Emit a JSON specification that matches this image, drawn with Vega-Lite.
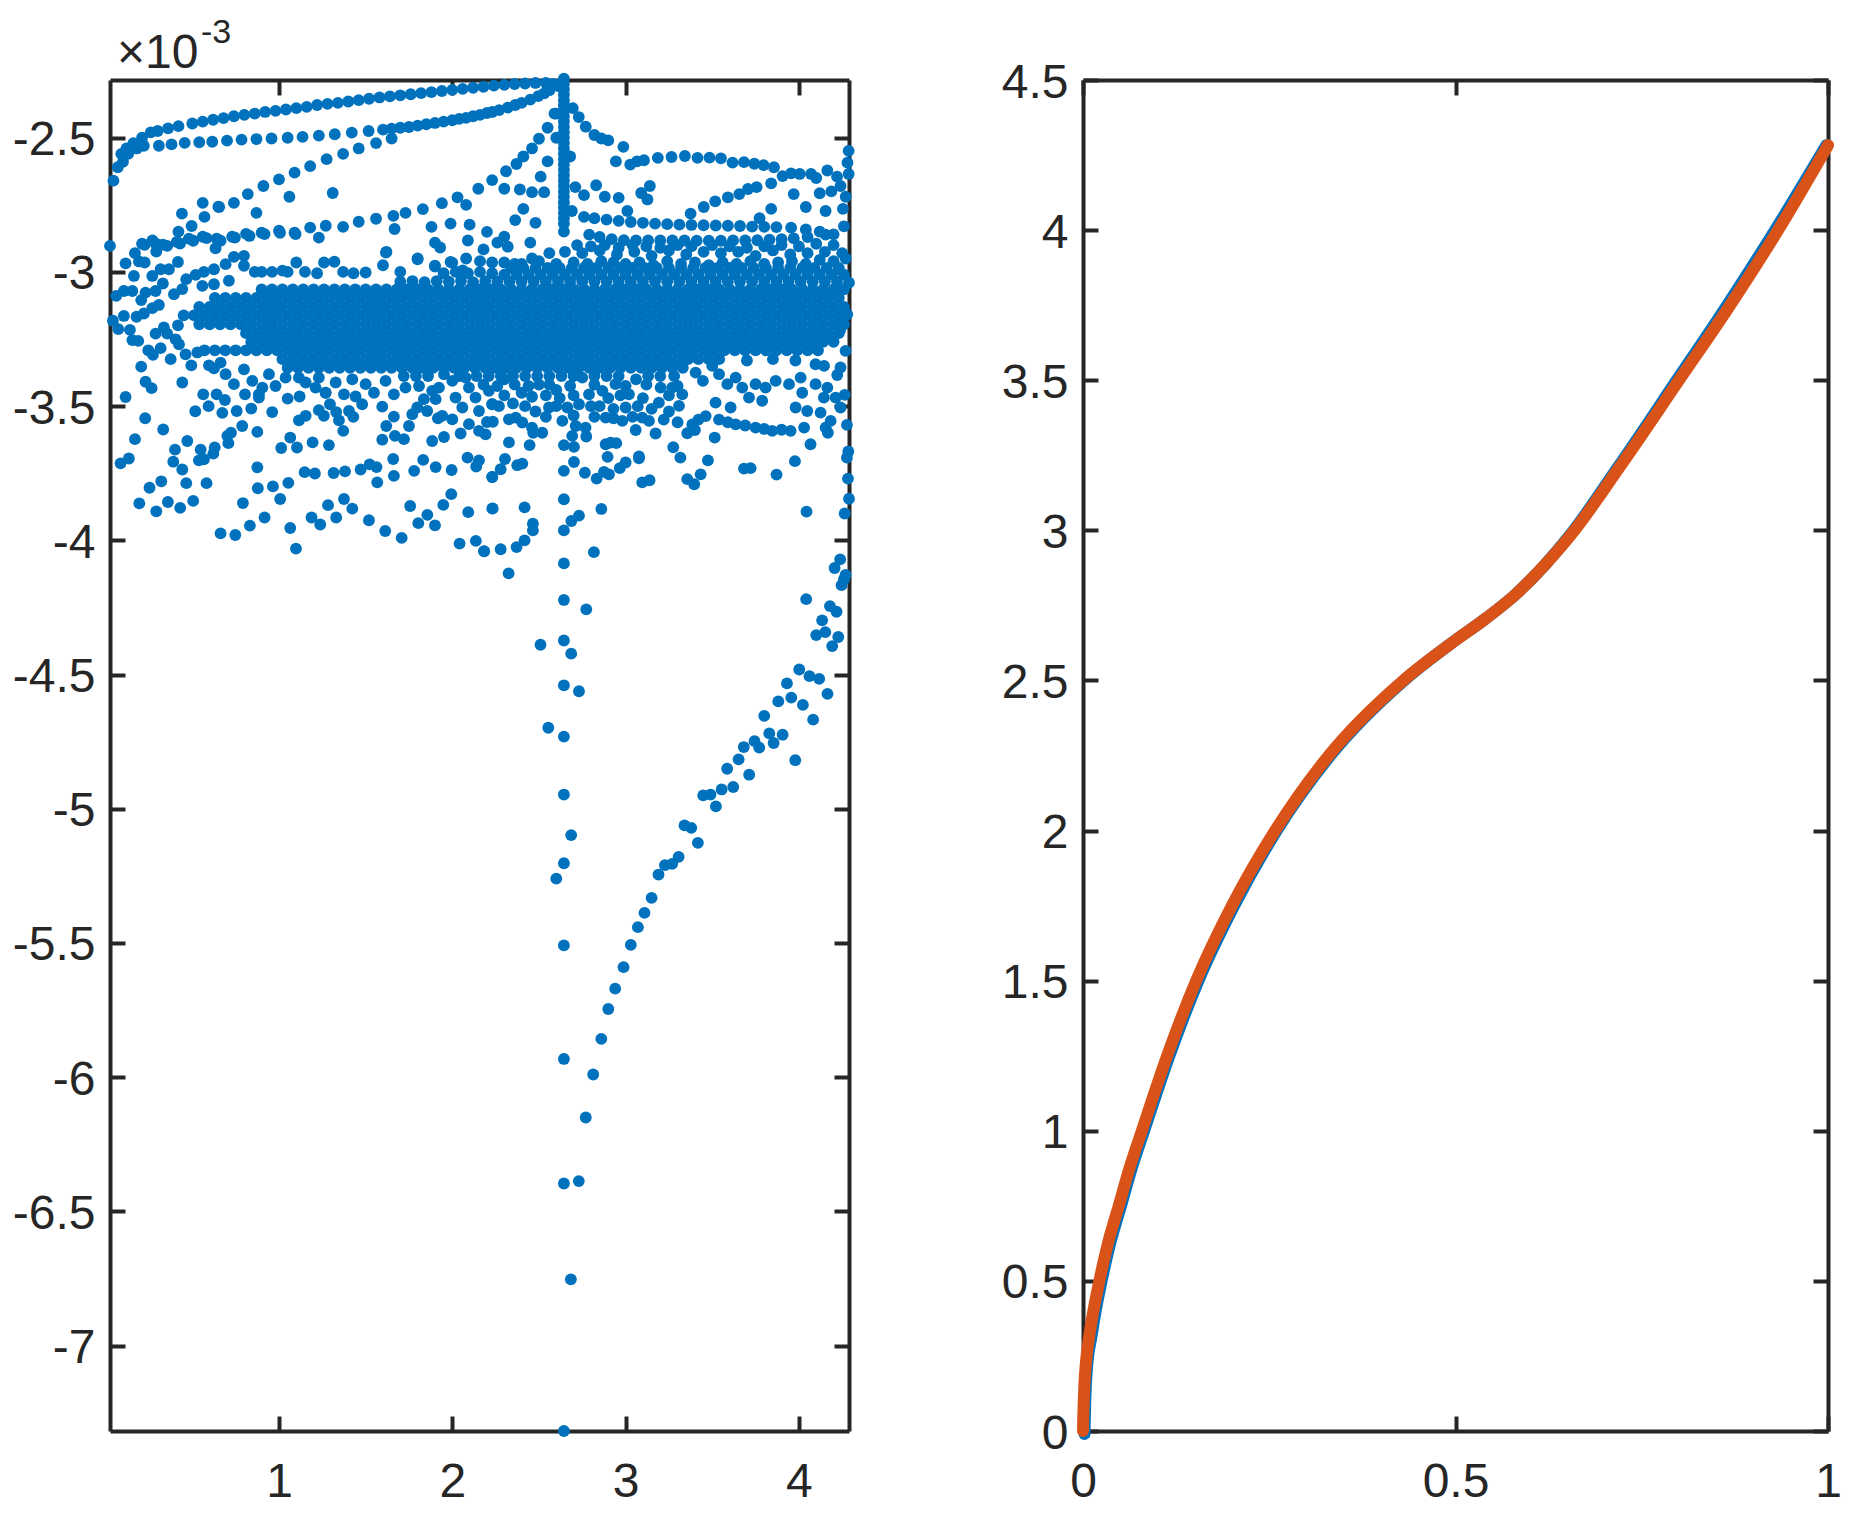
{"$schema":"https://vega.github.io/schema/vega-lite/v6.json","background":"white","padding":{"left":12,"top":15,"right":0,"bottom":0},"spacing":146,"config":{"view":{"stroke":null},"axis":{"grid":false,"title":null,"domainColor":"#262626","domainWidth":4,"tickColor":"#262626","tickWidth":4,"tickSize":-15,"labelColor":"#262626","labelFont":"Liberation Sans","labelFontSize":48,"labelOverlap":false,"labelBound":false,"labelFlush":false,"labelExpr":"''+datum.value","labelPadding":30}},"datasets":{"scatter":[
{"x":0.045,"y":-2.66},{"x":0.07,"y":-2.61},{"x":0.09,"y":-2.56},{"x":0.12,"y":-2.54},{"x":0.16,"y":-2.52},{"x":0.21,"y":-2.5},{"x":0.26,"y":-2.48},{"x":0.3,"y":-2.475},{"x":0.36,"y":-2.465},{"x":0.42,"y":-2.457},{"x":0.5,"y":-2.447},{"x":0.56,"y":-2.44},{"x":0.62,"y":-2.433},{"x":0.68,"y":-2.427},{"x":0.74,"y":-2.42},{"x":0.8,"y":-2.415},{"x":0.86,"y":-2.41},{"x":0.92,"y":-2.404},{"x":0.98,"y":-2.4},{"x":1.04,"y":-2.395},{"x":1.1,"y":-2.39},{"x":1.16,"y":-2.385},{"x":1.22,"y":-2.378},{"x":1.28,"y":-2.374},{"x":1.34,"y":-2.37},{"x":1.4,"y":-2.365},{"x":1.46,"y":-2.36},{"x":1.52,"y":-2.355},{"x":1.58,"y":-2.35},{"x":1.64,"y":-2.346},{"x":1.7,"y":-2.342},{"x":1.76,"y":-2.338},{"x":1.82,"y":-2.334},{"x":1.88,"y":-2.33},{"x":1.94,"y":-2.326},{"x":2.0,"y":-2.322},{"x":2.06,"y":-2.318},{"x":2.12,"y":-2.314},{"x":2.18,"y":-2.31},{"x":2.24,"y":-2.306},{"x":2.3,"y":-2.303},{"x":2.36,"y":-2.3},{"x":2.42,"y":-2.298},{"x":2.48,"y":-2.296},{"x":2.54,"y":-2.296},{"x":2.58,"y":-2.3},{"x":2.62,"y":-2.3},
{"x":0.1,"y":-2.59},{"x":0.13,"y":-2.56},{"x":0.18,"y":-2.54},{"x":0.22,"y":-2.53},{"x":0.307,"y":-2.53},{"x":0.38,"y":-2.525},{"x":0.456,"y":-2.519},{"x":0.54,"y":-2.517},{"x":0.615,"y":-2.515},{"x":0.7,"y":-2.511},{"x":0.784,"y":-2.507},{"x":0.87,"y":-2.505},{"x":0.957,"y":-2.503},{"x":1.05,"y":-2.5},{"x":1.136,"y":-2.497},{"x":1.23,"y":-2.492},{"x":1.322,"y":-2.487},{"x":1.42,"y":-2.481},{"x":1.517,"y":-2.475},{"x":1.6,"y":-2.47},{"x":1.65,"y":-2.466},{"x":1.7,"y":-2.463},{"x":1.75,"y":-2.46},{"x":1.8,"y":-2.455},{"x":1.85,"y":-2.45},{"x":1.9,"y":-2.445},{"x":1.95,"y":-2.44},{"x":2.0,"y":-2.435},{"x":2.04,"y":-2.43},{"x":2.08,"y":-2.426},{"x":2.12,"y":-2.42},{"x":2.16,"y":-2.415},{"x":2.2,"y":-2.408},{"x":2.23,"y":-2.404},{"x":2.27,"y":-2.397},{"x":2.32,"y":-2.388},{"x":2.363,"y":-2.378},{"x":2.4,"y":-2.37},{"x":2.45,"y":-2.358},{"x":2.496,"y":-2.345},{"x":2.53,"y":-2.335},{"x":2.56,"y":-2.323},{"x":2.61,"y":-2.308},
{"x":0.56,"y":-2.743},{"x":0.65,"y":-2.757},{"x":0.74,"y":-2.743},{"x":0.82,"y":-2.71},{"x":0.91,"y":-2.68},{"x":1.0,"y":-2.655},{"x":1.09,"y":-2.63},{"x":1.18,"y":-2.606},{"x":1.275,"y":-2.58},{"x":1.37,"y":-2.56},{"x":1.46,"y":-2.54},{"x":1.56,"y":-2.52},{"x":1.65,"y":-2.503},
{"x":0.21,"y":-2.895},{"x":0.27,"y":-2.883},{"x":0.33,"y":-2.898},{"x":0.41,"y":-2.888},{"x":0.48,"y":-2.876},{"x":0.56,"y":-2.869},{"x":0.64,"y":-2.876},{"x":0.73,"y":-2.869},{"x":0.81,"y":-2.858},{"x":0.9,"y":-2.854},{"x":1.0,"y":-2.846},{"x":1.09,"y":-2.854},{"x":1.18,"y":-2.835},{"x":1.27,"y":-2.828},{"x":1.37,"y":-2.832},{"x":1.46,"y":-2.813},{"x":1.56,"y":-2.802},{"x":1.66,"y":-2.791},{"x":1.73,"y":-2.78},{"x":1.83,"y":-2.766},{"x":1.94,"y":-2.744},{"x":2.03,"y":-2.722},{"x":2.08,"y":-2.75},{"x":2.15,"y":-2.69},{"x":2.23,"y":-2.658},{"x":2.3,"y":-2.69},{"x":2.39,"y":-2.693},{"x":2.46,"y":-2.703},{"x":2.51,"y":-2.645},{"x":2.53,"y":-2.703},{"x":2.31,"y":-2.625},{"x":2.37,"y":-2.598},{"x":2.41,"y":-2.57},{"x":2.46,"y":-2.54},{"x":2.5,"y":-2.504},{"x":2.55,"y":-2.463},{"x":2.6,"y":-2.41},
{"x":2.644,"y":-2.28},{"x":2.644,"y":-2.3},{"x":2.644,"y":-2.32},{"x":2.644,"y":-2.34},{"x":2.644,"y":-2.36},{"x":2.644,"y":-2.38},{"x":2.644,"y":-2.4},{"x":2.644,"y":-2.42},{"x":2.644,"y":-2.44},{"x":2.644,"y":-2.46},{"x":2.644,"y":-2.48},{"x":2.644,"y":-2.5},{"x":2.644,"y":-2.52},{"x":2.644,"y":-2.54},{"x":2.644,"y":-2.56},{"x":2.644,"y":-2.58},{"x":2.644,"y":-2.6},{"x":2.644,"y":-2.62},{"x":2.644,"y":-2.64},{"x":2.644,"y":-2.66},{"x":2.644,"y":-2.68},{"x":2.644,"y":-2.7},{"x":2.644,"y":-2.72},{"x":2.644,"y":-2.74},{"x":2.644,"y":-2.76},{"x":2.644,"y":-2.78},{"x":2.644,"y":-2.8},{"x":2.644,"y":-2.82},{"x":2.644,"y":-2.85},
{"x":2.695,"y":-2.39},{"x":2.73,"y":-2.423},{"x":2.77,"y":-2.459},{"x":2.82,"y":-2.49},{"x":2.86,"y":-2.503},{"x":2.9,"y":-2.51},{"x":2.987,"y":-2.534},{"x":2.944,"y":-2.588},{"x":3.027,"y":-2.6},{"x":3.066,"y":-2.588},{"x":3.106,"y":-2.584},{"x":3.186,"y":-2.575},{"x":3.265,"y":-2.572},{"x":3.342,"y":-2.568},{"x":3.415,"y":-2.575},{"x":3.484,"y":-2.574},{"x":3.55,"y":-2.577},{"x":3.617,"y":-2.593},{"x":3.683,"y":-2.591},{"x":3.743,"y":-2.597},{"x":3.796,"y":-2.602},{"x":3.856,"y":-2.61},
{"x":4.287,"y":-2.549},{"x":4.28,"y":-2.593},{"x":4.287,"y":-2.635},{"x":4.164,"y":-2.622},{"x":4.07,"y":-2.635},{"x":4.005,"y":-2.635},{"x":3.955,"y":-2.633},{"x":3.906,"y":-2.643},{"x":3.84,"y":-2.67},{"x":3.756,"y":-2.684},{"x":3.706,"y":-2.691},{"x":3.656,"y":-2.71},{"x":3.59,"y":-2.722},{"x":3.517,"y":-2.737},{"x":3.451,"y":-2.758},{"x":3.375,"y":-2.783},{"x":3.97,"y":-2.71},{"x":4.12,"y":-2.707},{"x":4.187,"y":-2.7},{"x":4.27,"y":-2.72},{"x":4.04,"y":-2.758},{"x":4.154,"y":-2.773},{"x":4.254,"y":-2.765},{"x":3.84,"y":-2.765},{"x":3.773,"y":-2.8},{"x":4.1,"y":-2.65},{"x":4.22,"y":-2.645},{"x":4.24,"y":-2.68},
{"x":2.69,"y":-2.773},{"x":2.76,"y":-2.795},{"x":2.82,"y":-2.8},{"x":2.89,"y":-2.805},{"x":2.96,"y":-2.81},{"x":3.03,"y":-2.814},{"x":3.1,"y":-2.817},{"x":3.17,"y":-2.82},{"x":3.24,"y":-2.822},{"x":3.31,"y":-2.824},{"x":3.38,"y":-2.825},{"x":3.45,"y":-2.826},{"x":3.52,"y":-2.827},{"x":3.59,"y":-2.828},{"x":3.66,"y":-2.829},{"x":3.73,"y":-2.831},{"x":3.8,"y":-2.832},{"x":3.87,"y":-2.833},{"x":3.955,"y":-2.835},{"x":4.04,"y":-2.842},{"x":4.12,"y":-2.85},{"x":4.2,"y":-2.86},{"x":4.26,"y":-2.83},
{"x":2.79,"y":-2.861},{"x":2.85,"y":-2.87},{"x":2.92,"y":-2.878},{"x":2.99,"y":-2.882},{"x":3.06,"y":-2.883},{"x":3.13,"y":-2.883},{"x":3.2,"y":-2.883},{"x":3.27,"y":-2.883},{"x":3.34,"y":-2.883},{"x":3.41,"y":-2.884},{"x":3.48,"y":-2.884},{"x":3.55,"y":-2.884},{"x":3.62,"y":-2.883},{"x":3.69,"y":-2.883},{"x":3.76,"y":-2.882},{"x":3.83,"y":-2.88},{"x":3.9,"y":-2.878},{"x":3.97,"y":-2.875},{"x":4.05,"y":-2.87},{"x":4.154,"y":-2.861},
{"x":1.06,"y":-2.72},{"x":1.31,"y":-2.706},{"x":0.87,"y":-2.78},{"x":0.44,"y":-2.783},{"x":0.57,"y":-2.795},{"x":0.496,"y":-2.829},{"x":0.42,"y":-2.85},{"x":0.655,"y":-2.758},{"x":1.667,"y":-2.84},{"x":1.88,"y":-2.832},{"x":1.99,"y":-2.82},{"x":2.1,"y":-2.824},{"x":2.2,"y":-2.851},{"x":2.3,"y":-2.869},{"x":2.26,"y":-2.891},{"x":1.9,"y":-2.891},{"x":1.93,"y":-2.909},{"x":2.09,"y":-2.883},{"x":2.18,"y":-2.916},{"x":2.32,"y":-2.906},{"x":2.45,"y":-2.891},{"x":2.363,"y":-2.807},{"x":2.41,"y":-2.765},{"x":2.48,"y":-2.817},{"x":2.55,"y":-2.588},{"x":2.6,"y":-2.5},{"x":2.68,"y":-2.57},{"x":2.59,"y":-2.41},{"x":2.71,"y":-2.684},{"x":2.83,"y":-2.677},{"x":2.88,"y":-2.72},{"x":2.96,"y":-2.724},{"x":3.09,"y":-2.706},{"x":3.14,"y":-2.68},{"x":3.126,"y":-2.73},{"x":2.76,"y":-2.714},{"x":3.01,"y":-2.773},{"x":1.617,"y":-2.928},{"x":1.8,"y":-2.95},{"x":1.9,"y":-2.98},{"x":2.0,"y":-2.966},{"x":2.08,"y":-2.95},{"x":2.16,"y":-2.96},{"x":2.23,"y":-2.965},{"x":2.36,"y":-2.97},{"x":2.46,"y":-2.95},{"x":2.56,"y":-2.93},
{"x":0.025,"y":-2.903},{"x":0.225,"y":-2.899},{"x":0.288,"y":-2.894},{"x":0.292,"y":-2.924},{"x":0.355,"y":-2.903},{"x":0.429,"y":-2.894},{"x":0.505,"y":-2.884},{"x":0.582,"y":-2.874},{"x":0.663,"y":-2.884},{"x":0.634,"y":-2.912},{"x":0.746,"y":-2.872},{"x":0.83,"y":-2.866},{"x":0.917,"y":-2.859},{"x":1.006,"y":-2.854},{"x":1.096,"y":-2.859},{"x":1.23,"y":-2.872},{"x":0.169,"y":-2.93},{"x":0.192,"y":-2.961},{"x":0.225,"y":-2.965},{"x":0.115,"y":-2.968},{"x":0.163,"y":-3.015},{"x":0.417,"y":-2.963},{"x":0.365,"y":-2.99},{"x":0.317,"y":-2.99},{"x":0.269,"y":-3.015},{"x":0.061,"y":-3.089},{"x":0.105,"y":-3.071},{"x":0.154,"y":-3.071},{"x":0.205,"y":-3.105},{"x":0.23,"y":-3.077},{"x":0.288,"y":-3.071},{"x":0.33,"y":-3.043},{"x":0.798,"y":-2.94},{"x":0.74,"y":-2.944},{"x":0.798,"y":-2.977},{"x":0.692,"y":-2.971},{"x":0.625,"y":-2.99},{"x":0.567,"y":-3.0},{"x":0.519,"y":-3.011},{"x":0.465,"y":-3.027},{"x":0.711,"y":-3.033},{"x":0.625,"y":-3.046},{"x":0.558,"y":-3.052},{"x":0.442,"y":-3.064},{"x":0.394,"y":-3.083},{"x":0.042,"y":-3.182},{"x":0.105,"y":-3.164},{"x":0.178,"y":-3.167},{"x":0.221,"y":-3.155},{"x":0.269,"y":-3.135},{"x":0.307,"y":-3.123},{"x":0.073,"y":-3.213},{"x":0.14,"y":-3.216},{"x":0.154,"y":-3.254},{"x":0.188,"y":-3.257},{"x":0.288,"y":-3.23},{"x":0.336,"y":-3.207},{"x":0.417,"y":-3.199},{"x":0.355,"y":-3.23},{"x":0.404,"y":-3.251},{"x":0.423,"y":-3.27},{"x":0.317,"y":-3.284},{"x":0.246,"y":-3.292},{"x":0.273,"y":-3.309},{"x":0.375,"y":-3.325},{"x":0.461,"y":-3.307},{"x":0.494,"y":-3.348},{"x":0.529,"y":-3.3},{"x":0.596,"y":-3.348},{"x":0.625,"y":-3.359},{"x":0.663,"y":-3.338},{"x":0.205,"y":-3.353},{"x":0.23,"y":-3.409},{"x":0.265,"y":-3.433},{"x":0.442,"y":-3.412},{"x":0.115,"y":-3.466},
{"x":0.563,"y":-3.456},{"x":0.64,"y":-3.456},{"x":0.688,"y":-3.477},{"x":0.804,"y":-3.456},{"x":0.884,"y":-3.468},{"x":1.05,"y":-3.472},{"x":1.119,"y":-3.464},{"x":0.594,"y":-3.5},{"x":0.673,"y":-3.525},{"x":0.517,"y":-3.519},{"x":0.756,"y":-3.518},{"x":0.84,"y":-3.509},{"x":0.961,"y":-3.522},{"x":0.228,"y":-3.545},{"x":0.332,"y":-3.587},{"x":0.169,"y":-3.623},{"x":0.788,"y":-3.574},{"x":0.875,"y":-3.596},{"x":0.723,"y":-3.599},{"x":0.702,"y":-3.611},{"x":0.708,"y":-3.638},{"x":0.471,"y":-3.63},{"x":0.4,"y":-3.662},{"x":0.548,"y":-3.662},{"x":0.629,"y":-3.654},{"x":0.621,"y":-3.677},{"x":0.567,"y":-3.698},{"x":0.538,"y":-3.702},{"x":0.134,"y":-3.695},{"x":0.086,"y":-3.713},{"x":0.39,"y":-3.707},{"x":0.442,"y":-3.736},{"x":0.875,"y":-3.728},{"x":0.321,"y":-3.78},{"x":0.253,"y":-3.804},{"x":0.465,"y":-3.787},{"x":0.582,"y":-3.787},{"x":0.878,"y":-3.806},{"x":0.965,"y":-3.799},{"x":1.054,"y":-3.786},{"x":1.007,"y":-3.846},{"x":0.194,"y":-3.862},{"x":0.359,"y":-3.857},{"x":0.505,"y":-3.853},{"x":0.292,"y":-3.892},{"x":0.43,"y":-3.879},{"x":0.792,"y":-3.861},{"x":0.917,"y":-3.915},{"x":0.832,"y":-3.945},{"x":0.663,"y":-3.974},{"x":0.748,"y":-3.98},{"x":1.065,"y":-3.954},{"x":1.098,"y":-4.031},
{"x":1.013,"y":-3.656},{"x":1.065,"y":-3.617},{"x":1.104,"y":-3.654},{"x":1.194,"y":-3.635},{"x":1.288,"y":-3.645},{"x":1.371,"y":-3.592},{"x":1.346,"y":-3.553},{"x":1.429,"y":-3.54},{"x":1.404,"y":-3.518},{"x":1.33,"y":-3.522},{"x":1.294,"y":-3.493},{"x":1.23,"y":-3.515},{"x":1.259,"y":-3.536},{"x":1.154,"y":-3.536},{"x":1.115,"y":-3.553},{"x":1.48,"y":-3.493},{"x":1.442,"y":-3.464},{"x":1.375,"y":-3.456},{"x":1.269,"y":-3.45},{"x":1.596,"y":-3.502},{"x":1.619,"y":-3.574},{"x":1.663,"y":-3.539},{"x":1.596,"y":-3.625},{"x":1.669,"y":-3.611},{"x":1.721,"y":-3.623},{"x":1.75,"y":-3.574},{"x":1.769,"y":-3.53},{"x":1.798,"y":-3.505},{"x":1.836,"y":-3.474},{"x":1.855,"y":-3.518},{"x":1.884,"y":-3.63},{"x":1.952,"y":-3.615},{"x":1.917,"y":-3.545},{"x":1.942,"y":-3.536},{"x":2.0,"y":-3.549},{"x":2.048,"y":-3.602},{"x":2.096,"y":-3.567},{"x":2.154,"y":-3.592},{"x":2.192,"y":-3.605},{"x":2.2,"y":-3.559},{"x":2.234,"y":-3.558},{"x":1.904,"y":-3.474},
{"x":1.148,"y":-3.746},{"x":1.207,"y":-3.751},{"x":1.315,"y":-3.749},{"x":1.381,"y":-3.743},{"x":1.471,"y":-3.736},{"x":1.523,"y":-3.717},{"x":1.563,"y":-3.727},{"x":1.659,"y":-3.697},{"x":1.663,"y":-3.76},{"x":1.567,"y":-3.784},{"x":1.78,"y":-3.741},{"x":1.832,"y":-3.7},{"x":1.904,"y":-3.727},{"x":1.996,"y":-3.738},{"x":2.088,"y":-3.692},{"x":2.154,"y":-3.702},{"x":2.138,"y":-3.725},{"x":2.23,"y":-3.764},{"x":1.994,"y":-3.828},{"x":1.948,"y":-3.868},{"x":1.856,"y":-3.905},{"x":1.804,"y":-3.936},{"x":1.9,"y":-3.944},{"x":1.757,"y":-3.872},{"x":2.092,"y":-3.895},{"x":2.233,"y":-3.881},{"x":1.283,"y":-3.869},{"x":1.375,"y":-3.846},{"x":1.423,"y":-3.882},{"x":1.33,"y":-3.915},{"x":1.188,"y":-3.915},{"x":1.238,"y":-3.941},{"x":1.519,"y":-3.925},{"x":1.613,"y":-3.965},{"x":1.708,"y":-3.991},{"x":2.042,"y":-4.012},{"x":2.136,"y":-4.002},{"x":2.184,"y":-4.041},
{"x":4.289,"y":-3.04},{"x":4.279,"y":-3.158},{"x":4.237,"y":-3.217},{"x":4.269,"y":-3.294},{"x":4.24,"y":-3.356},{"x":4.221,"y":-3.384},{"x":4.264,"y":-3.458},{"x":4.277,"y":-3.57},{"x":4.067,"y":-3.642},{"x":4.285,"y":-3.669},{"x":4.277,"y":-3.692},{"x":4.283,"y":-3.77},{"x":4.289,"y":-3.845},{"x":4.264,"y":-3.9},{"x":4.044,"y":-3.893},{"x":3.514,"y":-3.617},{"x":3.275,"y":-3.653},{"x":3.316,"y":-3.692},{"x":3.475,"y":-3.702},{"x":3.977,"y":-3.705},{"x":3.683,"y":-3.733},{"x":3.721,"y":-3.731},{"x":3.871,"y":-3.755},{"x":3.433,"y":-3.754},{"x":3.356,"y":-3.772},{"x":3.396,"y":-3.791},{"x":3.096,"y":-3.784},{"x":3.138,"y":-3.776},{"x":3.077,"y":-3.687},{"x":3.077,"y":-3.694},{"x":3.0,"y":-3.71},{"x":2.966,"y":-3.731},{"x":2.904,"y":-3.754},{"x":2.875,"y":-3.745},{"x":2.833,"y":-3.77},{"x":2.765,"y":-3.748},{"x":2.702,"y":-3.708},{"x":2.644,"y":-3.741},{"x":2.644,"y":-3.847},{"x":2.896,"y":-3.689},{"x":2.914,"y":-3.636},{"x":2.946,"y":-3.638},{"x":2.885,"y":-3.642},{"x":2.644,"y":-3.645},{"x":2.702,"y":-3.652},{"x":2.773,"y":-3.613},{"x":2.692,"y":-3.611},{"x":3.058,"y":-3.589},{"x":3.173,"y":-3.602},{"x":3.356,"y":-3.601},{"x":3.4,"y":-3.589},{"x":2.327,"y":-3.635},{"x":2.446,"y":-3.645},{"x":2.467,"y":-3.599},{"x":2.519,"y":-3.599},{"x":2.304,"y":-3.697},{"x":2.279,"y":-3.735},{"x":2.231,"y":-3.764},{"x":2.375,"y":-3.72},{"x":2.404,"y":-3.714},{"x":2.231,"y":-3.882},{"x":2.417,"y":-3.877},{"x":2.465,"y":-3.938},{"x":2.465,"y":-3.963},{"x":2.417,"y":-4.0},{"x":2.371,"y":-4.025},{"x":2.279,"y":-4.033},{"x":2.183,"y":-4.04},{"x":2.325,"y":-4.123},{"x":2.644,"y":-3.963},{"x":2.687,"y":-3.928},{"x":2.731,"y":-3.908},{"x":2.86,"y":-3.883},{"x":2.817,"y":-4.044},{"x":2.644,"y":-4.086},{"x":2.644,"y":-4.222},{"x":2.773,"y":-4.257},
{"x":2.509,"y":-4.389},{"x":2.644,"y":-4.373},{"x":2.686,"y":-4.422},{"x":2.644,"y":-4.54},{"x":2.731,"y":-4.562},{"x":2.554,"y":-4.698},{"x":2.644,"y":-4.731},{"x":2.644,"y":-4.947},{"x":2.686,"y":-5.098},{"x":2.644,"y":-5.203},{"x":2.6,"y":-5.26},{"x":2.644,"y":-5.509},{"x":2.644,"y":-5.932},{"x":2.644,"y":-6.396},{"x":2.73,"y":-6.387},{"x":2.684,"y":-6.753},{"x":2.644,"y":-7.318},{"x":2.77,"y":-6.15},{"x":2.813,"y":-5.99},{"x":2.86,"y":-5.857},{"x":2.9,"y":-5.746},{"x":2.94,"y":-5.67},
{"x":2.988,"y":-5.59},{"x":3.03,"y":-5.507},{"x":3.071,"y":-5.441},{"x":3.109,"y":-5.388},{"x":3.15,"y":-5.332},{"x":3.19,"y":-5.245},{"x":3.227,"y":-5.21},{"x":3.269,"y":-5.205},{"x":3.306,"y":-5.179},{"x":3.417,"y":-5.127},{"x":3.34,"y":-5.062},{"x":3.379,"y":-5.071},{"x":3.521,"y":-4.991},{"x":3.448,"y":-4.95},{"x":3.49,"y":-4.947},{"x":3.554,"y":-4.928},{"x":3.621,"y":-4.919},{"x":3.713,"y":-4.873},{"x":3.586,"y":-4.851},{"x":3.652,"y":-4.816},{"x":3.682,"y":-4.77},{"x":3.744,"y":-4.748},{"x":3.771,"y":-4.772},{"x":3.979,"y":-4.819},{"x":3.829,"y":-4.719},{"x":3.854,"y":-4.755},{"x":3.906,"y":-4.724},{"x":3.8,"y":-4.654},{"x":4.082,"y":-4.668},{"x":3.881,"y":-4.6},{"x":3.956,"y":-4.586},{"x":4.023,"y":-4.613},{"x":3.931,"y":-4.533},{"x":4.165,"y":-4.572},{"x":4.002,"y":-4.481},{"x":4.061,"y":-4.506},{"x":4.117,"y":-4.516},{"x":4.192,"y":-4.394},{"x":4.227,"y":-4.36},{"x":4.1,"y":-4.353},{"x":4.152,"y":-4.342},{"x":4.134,"y":-4.298},{"x":4.179,"y":-4.245},{"x":4.217,"y":-4.266},{"x":4.042,"y":-4.219},{"x":4.246,"y":-4.167},{"x":4.26,"y":-4.145},{"x":4.269,"y":-4.129},{"x":4.206,"y":-4.103},{"x":4.238,"y":-4.071},
{"x":3.404,"y":-3.375},{"x":3.446,"y":-3.406},{"x":3.5,"y":-3.35},{"x":3.539,"y":-3.381},{"x":3.587,"y":-3.418},{"x":3.635,"y":-3.394},{"x":3.673,"y":-3.431},{"x":3.519,"y":-3.487},{"x":3.606,"y":-3.505},{"x":3.712,"y":-3.468},{"x":3.788,"y":-3.48},{"x":3.808,"y":-3.431},{"x":3.75,"y":-3.418},{"x":3.866,"y":-3.406},{"x":3.943,"y":-3.418},{"x":4.01,"y":-3.394},{"x":4.019,"y":-3.45},{"x":4.096,"y":-3.344},{"x":4.145,"y":-3.35},{"x":4.096,"y":-3.418},{"x":4.164,"y":-3.431},{"x":4.144,"y":-3.468},{"x":4.212,"y":-3.468},{"x":4.24,"y":-3.505},{"x":3.981,"y":-3.505},{"x":4.048,"y":-3.518},{"x":4.125,"y":-3.524},{"x":4.183,"y":-3.555},{"x":3.385,"y":-3.568},{"x":3.462,"y":-3.537},{"x":3.539,"y":-3.55},{"x":3.635,"y":-3.568},{"x":3.75,"y":-3.58},{"x":3.846,"y":-3.592},{"x":3.952,"y":-3.592},{"x":4.03,"y":-3.58},{"x":4.154,"y":-3.58},{"x":4.167,"y":-3.599},{"x":3.42,"y":-3.55},{"x":3.59,"y":-3.56},{"x":3.69,"y":-3.572},{"x":3.8,"y":-3.585},{"x":3.9,"y":-3.588},
{"x":2.231,"y":-3.493},{"x":2.269,"y":-3.5},{"x":2.327,"y":-3.549},{"x":2.366,"y":-3.543},{"x":2.404,"y":-3.561},{"x":2.46,"y":-3.58},{"x":2.558,"y":-3.505},{"x":2.664,"y":-3.505},{"x":2.635,"y":-3.555},{"x":2.712,"y":-3.574},{"x":2.769,"y":-3.58},{"x":2.731,"y":-3.493},{"x":2.789,"y":-3.456},{"x":2.75,"y":-3.394},{"x":2.866,"y":-3.443},{"x":2.885,"y":-3.543},{"x":2.981,"y":-3.555},{"x":2.942,"y":-3.418},{"x":3.019,"y":-3.456},{"x":3.0,"y":-3.505},{"x":3.096,"y":-3.543},{"x":3.192,"y":-3.487},{"x":3.202,"y":-3.431},{"x":3.308,"y":-3.499},{"x":3.327,"y":-3.456},{"x":3.135,"y":-3.555},{"x":3.269,"y":-3.431},{"x":2.3,"y":-3.4},{"x":2.4,"y":-3.45},{"x":2.5,"y":-3.42},{"x":2.6,"y":-3.44},{"x":2.85,"y":-3.5},{"x":3.06,"y":-3.4},{"x":2.35,"y":-3.49},{"x":2.48,"y":-3.52},
{"x":0.692,"y":-3.381},{"x":0.74,"y":-3.418},{"x":0.798,"y":-3.363},{"x":0.846,"y":-3.406},{"x":0.904,"y":-3.431},{"x":0.884,"y":-3.456},{"x":0.98,"y":-3.425},{"x":0.942,"y":-3.381},{"x":1.038,"y":-3.394},{"x":1.115,"y":-3.394},{"x":1.154,"y":-3.412},{"x":1.23,"y":-3.394},{"x":1.211,"y":-3.431},{"x":1.269,"y":-3.45},{"x":1.327,"y":-3.412},{"x":1.423,"y":-3.4},{"x":1.5,"y":-3.418},{"x":1.548,"y":-3.45},{"x":1.615,"y":-3.406},{"x":1.663,"y":-3.456},{"x":1.73,"y":-3.431},{"x":1.808,"y":-3.425},{"x":1.884,"y":-3.443},{"x":1.952,"y":-3.381},{"x":2.019,"y":-3.468},{"x":2.058,"y":-3.505},{"x":2.096,"y":-3.431},{"x":2.154,"y":-3.518},{"x":2.23,"y":-3.493},{"x":2.134,"y":-3.468},{"x":2.211,"y":-3.443},{"x":2.077,"y":-3.394},{"x":2.0,"y":-3.406},{"x":1.923,"y":-3.431},
{"x":0.86,"y":-3.0},{"x":0.9,"y":-3.0},{"x":0.96,"y":-3.0},{"x":1.02,"y":-2.995},{"x":1.1,"y":-2.965},{"x":1.26,"y":-2.965},{"x":1.32,"y":-2.962},{"x":1.37,"y":-3.0},{"x":1.43,"y":-3.005},{"x":1.5,"y":-3.002},{"x":1.6,"y":-2.975},{"x":1.62,"y":-2.925},{"x":1.7,"y":-3.0},{"x":1.8,"y":-2.953},{"x":1.9,"y":-2.977},{"x":1.99,"y":-2.963},{"x":2.06,"y":-2.994},{"x":1.05,"y":-3.0},{"x":1.15,"y":-3.0},{"x":1.22,"y":-3.005},
{"x":2.65,"y":-2.925},{"x":2.75,"y":-2.93},{"x":2.85,"y":-2.92},{"x":2.95,"y":-2.935},{"x":3.05,"y":-2.925},{"x":3.15,"y":-2.94},{"x":3.25,"y":-2.92},{"x":3.35,"y":-2.935},{"x":3.45,"y":-2.925},{"x":3.55,"y":-2.93},{"x":3.65,"y":-2.925},{"x":3.75,"y":-2.94},{"x":3.85,"y":-2.92},{"x":3.95,"y":-2.935},{"x":4.05,"y":-2.93},{"x":4.15,"y":-2.925},{"x":4.25,"y":-2.93},
{"x":2.3,"y":-2.965},{"x":2.4,"y":-2.97},{"x":2.5,"y":-2.96},{"x":2.6,"y":-2.97},{"x":2.7,"y":-2.965},{"x":2.78,"y":-2.97},{"x":2.86,"y":-2.96},{"x":2.93,"y":-2.965},{"x":3.0,"y":-2.97},{"x":3.08,"y":-2.965},{"x":3.16,"y":-2.975},{"x":3.24,"y":-2.96},{"x":3.32,"y":-2.97},{"x":3.4,"y":-2.965},{"x":3.48,"y":-2.975},{"x":3.56,"y":-2.965},{"x":3.64,"y":-2.97},{"x":3.72,"y":-2.96},{"x":3.8,"y":-2.97},{"x":3.88,"y":-2.965},{"x":3.96,"y":-2.96},{"x":4.04,"y":-2.97},{"x":4.12,"y":-2.955},{"x":4.2,"y":-2.96},{"x":4.27,"y":-2.95},
{"x":2.72,"y":-2.9},{"x":2.8,"y":-2.905},{"x":2.88,"y":-2.9},{"x":2.96,"y":-2.91},{"x":3.04,"y":-2.9},{"x":3.12,"y":-2.905},{"x":3.2,"y":-2.91},{"x":3.3,"y":-2.9},{"x":3.38,"y":-2.905},{"x":3.5,"y":-2.9},{"x":3.6,"y":-2.905},{"x":3.7,"y":-2.91},{"x":3.8,"y":-2.905},{"x":3.9,"y":-2.9},{"x":4.0,"y":-2.905},{"x":4.1,"y":-2.895},{"x":4.2,"y":-2.9},
{"x":2.34,"y":-2.985},{"x":2.41,"y":-2.985},{"x":2.48,"y":-2.985},{"x":2.55,"y":-2.985},{"x":2.62,"y":-2.985},{"x":2.69,"y":-2.985},{"x":2.76,"y":-2.985},{"x":2.83,"y":-2.985},{"x":2.9,"y":-2.985},{"x":2.97,"y":-2.985},{"x":3.04,"y":-2.985},{"x":3.11,"y":-2.985},{"x":3.18,"y":-2.985},{"x":3.25,"y":-2.985},{"x":3.32,"y":-2.985},{"x":3.39,"y":-2.985},{"x":3.46,"y":-2.985},{"x":3.53,"y":-2.985},{"x":3.6,"y":-2.985},{"x":3.67,"y":-2.985},{"x":3.74,"y":-2.985},{"x":3.81,"y":-2.985},{"x":3.88,"y":-2.985},{"x":3.95,"y":-2.985},{"x":4.02,"y":-2.985},{"x":4.09,"y":-2.985},{"x":4.16,"y":-2.985},{"x":4.23,"y":-2.985},
{"x":1.95,"y":-3.005},{"x":2.02,"y":-3.0},{"x":2.09,"y":-3.005},{"x":2.16,"y":-3.0},{"x":2.23,"y":-3.005},{"x":2.3,"y":-3.01},{"x":2.37,"y":-3.01},{"x":2.44,"y":-3.01},{"x":2.51,"y":-3.01},{"x":2.58,"y":-3.01},{"x":2.65,"y":-3.01},{"x":2.72,"y":-3.01},{"x":2.79,"y":-3.01},{"x":2.86,"y":-3.01},{"x":2.93,"y":-3.01},{"x":3.0,"y":-3.01},{"x":3.07,"y":-3.01},{"x":3.14,"y":-3.01},{"x":3.21,"y":-3.01},{"x":3.28,"y":-3.01},{"x":3.35,"y":-3.01},{"x":3.42,"y":-3.01},{"x":3.49,"y":-3.01},{"x":3.56,"y":-3.01},{"x":3.63,"y":-3.01},{"x":3.7,"y":-3.01},{"x":3.77,"y":-3.01},{"x":3.84,"y":-3.01},{"x":3.91,"y":-3.01},{"x":3.98,"y":-3.01},{"x":4.05,"y":-3.01},{"x":4.12,"y":-3.01},{"x":4.19,"y":-3.01},{"x":4.26,"y":-3.01},
{"x":1.7,"y":-3.036},{"x":1.77,"y":-3.034},{"x":1.84,"y":-3.038},{"x":1.91,"y":-3.034},{"x":1.98,"y":-3.036},{"x":2.05,"y":-3.034},{"x":2.12,"y":-3.038},{"x":2.19,"y":-3.034},{"x":2.26,"y":-3.036},{"x":2.33,"y":-3.036},{"x":2.4,"y":-3.036},{"x":2.47,"y":-3.036},{"x":2.54,"y":-3.036},{"x":2.61,"y":-3.036},{"x":2.68,"y":-3.036},{"x":2.75,"y":-3.036},{"x":2.82,"y":-3.036},{"x":2.89,"y":-3.036},{"x":2.96,"y":-3.036},{"x":3.03,"y":-3.036},{"x":3.1,"y":-3.036},{"x":3.17,"y":-3.036},{"x":3.24,"y":-3.036},{"x":3.31,"y":-3.036},{"x":3.38,"y":-3.036},{"x":3.45,"y":-3.036},{"x":3.52,"y":-3.036},{"x":3.59,"y":-3.036},{"x":3.66,"y":-3.036},{"x":3.73,"y":-3.036},{"x":3.8,"y":-3.036},{"x":3.87,"y":-3.036},{"x":3.94,"y":-3.036},{"x":4.01,"y":-3.036},{"x":4.08,"y":-3.036},{"x":4.15,"y":-3.036},{"x":4.22,"y":-3.036},
{"x":0.9,"y":-3.065},{"x":0.96,"y":-3.065},{"x":1.02,"y":-3.065},{"x":1.08,"y":-3.065},{"x":1.14,"y":-3.065},{"x":1.2,"y":-3.065},{"x":1.26,"y":-3.065},{"x":1.32,"y":-3.065},{"x":1.38,"y":-3.065},{"x":1.44,"y":-3.065},{"x":1.5,"y":-3.065},{"x":1.56,"y":-3.065},{"x":1.62,"y":-3.065},{"x":1.68,"y":-3.065},{"x":1.74,"y":-3.065},{"x":1.8,"y":-3.065},{"x":1.86,"y":-3.065},{"x":1.92,"y":-3.065},{"x":1.98,"y":-3.065},{"x":2.04,"y":-3.065},{"x":2.1,"y":-3.065},{"x":2.16,"y":-3.065},{"x":2.22,"y":-3.065},{"x":2.28,"y":-3.065},{"x":2.34,"y":-3.065},{"x":2.4,"y":-3.065},{"x":2.46,"y":-3.065},{"x":2.52,"y":-3.065},{"x":2.58,"y":-3.065},{"x":2.64,"y":-3.065},{"x":2.7,"y":-3.065},{"x":2.76,"y":-3.065},{"x":2.82,"y":-3.065},{"x":2.88,"y":-3.065},{"x":2.94,"y":-3.065},{"x":3.0,"y":-3.065},{"x":3.06,"y":-3.065},{"x":3.12,"y":-3.065},{"x":3.18,"y":-3.065},{"x":3.24,"y":-3.065},{"x":3.3,"y":-3.065},{"x":3.36,"y":-3.065},{"x":3.42,"y":-3.065},{"x":3.48,"y":-3.065},{"x":3.54,"y":-3.065},{"x":3.6,"y":-3.065},{"x":3.66,"y":-3.065},{"x":3.72,"y":-3.065},{"x":3.78,"y":-3.065},{"x":3.84,"y":-3.065},{"x":3.9,"y":-3.065},{"x":3.96,"y":-3.065},{"x":4.02,"y":-3.065},{"x":4.08,"y":-3.065},{"x":4.14,"y":-3.065},{"x":4.2,"y":-3.065},{"x":4.26,"y":-3.065},
{"x":0.63,"y":-3.097},{"x":0.69,"y":-3.097},{"x":0.75,"y":-3.097},{"x":0.81,"y":-3.097},{"x":0.87,"y":-3.097},{"x":0.93,"y":-3.097},{"x":0.99,"y":-3.097},{"x":1.05,"y":-3.097},{"x":1.11,"y":-3.097},{"x":1.17,"y":-3.097},{"x":1.23,"y":-3.097},{"x":1.29,"y":-3.097},{"x":1.35,"y":-3.097},{"x":1.41,"y":-3.097},{"x":1.47,"y":-3.097},{"x":1.53,"y":-3.097},{"x":1.59,"y":-3.097},{"x":1.65,"y":-3.097},{"x":1.71,"y":-3.097},{"x":1.77,"y":-3.097},{"x":1.83,"y":-3.097},{"x":1.89,"y":-3.097},{"x":1.95,"y":-3.097},{"x":2.01,"y":-3.097},{"x":2.07,"y":-3.097},{"x":2.13,"y":-3.097},{"x":2.19,"y":-3.097},{"x":2.25,"y":-3.097},{"x":2.31,"y":-3.097},{"x":2.37,"y":-3.097},{"x":2.43,"y":-3.097},{"x":2.49,"y":-3.097},{"x":2.55,"y":-3.097},{"x":2.61,"y":-3.097},{"x":2.67,"y":-3.097},{"x":2.73,"y":-3.097},{"x":2.79,"y":-3.097},{"x":2.85,"y":-3.097},{"x":2.91,"y":-3.097},{"x":2.97,"y":-3.097},{"x":3.03,"y":-3.097},{"x":3.09,"y":-3.097},{"x":3.15,"y":-3.097},{"x":3.21,"y":-3.097},{"x":3.27,"y":-3.097},{"x":3.33,"y":-3.097},{"x":3.39,"y":-3.097},{"x":3.45,"y":-3.097},{"x":3.51,"y":-3.097},{"x":3.57,"y":-3.097},{"x":3.63,"y":-3.097},{"x":3.69,"y":-3.097},{"x":3.75,"y":-3.097},{"x":3.81,"y":-3.097},{"x":3.87,"y":-3.097},{"x":3.93,"y":-3.097},{"x":3.99,"y":-3.097},{"x":4.05,"y":-3.097},{"x":4.11,"y":-3.097},{"x":4.17,"y":-3.097},{"x":4.23,"y":-3.097},
{"x":0.54,"y":-3.13},{"x":0.6,"y":-3.13},{"x":0.66,"y":-3.13},{"x":0.72,"y":-3.13},{"x":0.78,"y":-3.13},{"x":0.84,"y":-3.13},{"x":0.9,"y":-3.13},{"x":0.96,"y":-3.13},{"x":1.02,"y":-3.13},{"x":1.08,"y":-3.13},{"x":1.14,"y":-3.13},{"x":1.2,"y":-3.13},{"x":1.26,"y":-3.13},{"x":1.32,"y":-3.13},{"x":1.38,"y":-3.13},{"x":1.44,"y":-3.13},{"x":1.5,"y":-3.13},{"x":1.56,"y":-3.13},{"x":1.62,"y":-3.13},{"x":1.68,"y":-3.13},{"x":1.74,"y":-3.13},{"x":1.8,"y":-3.13},{"x":1.86,"y":-3.13},{"x":1.92,"y":-3.13},{"x":1.98,"y":-3.13},{"x":2.04,"y":-3.13},{"x":2.1,"y":-3.13},{"x":2.16,"y":-3.13},{"x":2.22,"y":-3.13},{"x":2.28,"y":-3.13},{"x":2.34,"y":-3.13},{"x":2.4,"y":-3.13},{"x":2.46,"y":-3.13},{"x":2.52,"y":-3.13},{"x":2.58,"y":-3.13},{"x":2.64,"y":-3.13},{"x":2.7,"y":-3.13},{"x":2.76,"y":-3.13},{"x":2.82,"y":-3.13},{"x":2.88,"y":-3.13},{"x":2.94,"y":-3.13},{"x":3.0,"y":-3.13},{"x":3.06,"y":-3.13},{"x":3.12,"y":-3.13},{"x":3.18,"y":-3.13},{"x":3.24,"y":-3.13},{"x":3.3,"y":-3.13},{"x":3.36,"y":-3.13},{"x":3.42,"y":-3.13},{"x":3.48,"y":-3.13},{"x":3.54,"y":-3.13},{"x":3.6,"y":-3.13},{"x":3.66,"y":-3.13},{"x":3.72,"y":-3.13},{"x":3.78,"y":-3.13},{"x":3.84,"y":-3.13},{"x":3.9,"y":-3.13},{"x":3.96,"y":-3.13},{"x":4.02,"y":-3.13},{"x":4.08,"y":-3.13},{"x":4.14,"y":-3.13},{"x":4.2,"y":-3.13},{"x":4.26,"y":-3.13},
{"x":0.45,"y":-3.162},{"x":0.51,"y":-3.162},{"x":0.57,"y":-3.162},{"x":0.63,"y":-3.162},{"x":0.69,"y":-3.162},{"x":0.75,"y":-3.162},{"x":0.81,"y":-3.162},{"x":0.87,"y":-3.162},{"x":0.93,"y":-3.162},{"x":0.99,"y":-3.162},{"x":1.05,"y":-3.162},{"x":1.11,"y":-3.162},{"x":1.17,"y":-3.162},{"x":1.23,"y":-3.162},{"x":1.29,"y":-3.162},{"x":1.35,"y":-3.162},{"x":1.41,"y":-3.162},{"x":1.47,"y":-3.162},{"x":1.53,"y":-3.162},{"x":1.59,"y":-3.162},{"x":1.65,"y":-3.162},{"x":1.71,"y":-3.162},{"x":1.77,"y":-3.162},{"x":1.83,"y":-3.162},{"x":1.89,"y":-3.162},{"x":1.95,"y":-3.162},{"x":2.01,"y":-3.162},{"x":2.07,"y":-3.162},{"x":2.13,"y":-3.162},{"x":2.19,"y":-3.162},{"x":2.25,"y":-3.162},{"x":2.31,"y":-3.162},{"x":2.37,"y":-3.162},{"x":2.43,"y":-3.162},{"x":2.49,"y":-3.162},{"x":2.55,"y":-3.162},{"x":2.61,"y":-3.162},{"x":2.67,"y":-3.162},{"x":2.73,"y":-3.162},{"x":2.79,"y":-3.162},{"x":2.85,"y":-3.162},{"x":2.91,"y":-3.162},{"x":2.97,"y":-3.162},{"x":3.03,"y":-3.162},{"x":3.09,"y":-3.162},{"x":3.15,"y":-3.162},{"x":3.21,"y":-3.162},{"x":3.27,"y":-3.162},{"x":3.33,"y":-3.162},{"x":3.39,"y":-3.162},{"x":3.45,"y":-3.162},{"x":3.51,"y":-3.162},{"x":3.57,"y":-3.162},{"x":3.63,"y":-3.162},{"x":3.69,"y":-3.162},{"x":3.75,"y":-3.162},{"x":3.81,"y":-3.162},{"x":3.87,"y":-3.162},{"x":3.93,"y":-3.162},{"x":3.99,"y":-3.162},{"x":4.05,"y":-3.162},{"x":4.11,"y":-3.162},{"x":4.17,"y":-3.162},{"x":4.23,"y":-3.162},
{"x":0.54,"y":-3.195},{"x":0.6,"y":-3.195},{"x":0.66,"y":-3.195},{"x":0.72,"y":-3.195},{"x":0.78,"y":-3.195},{"x":0.84,"y":-3.195},{"x":0.9,"y":-3.195},{"x":0.96,"y":-3.195},{"x":1.02,"y":-3.195},{"x":1.08,"y":-3.195},{"x":1.14,"y":-3.195},{"x":1.2,"y":-3.195},{"x":1.26,"y":-3.195},{"x":1.32,"y":-3.195},{"x":1.38,"y":-3.195},{"x":1.44,"y":-3.195},{"x":1.5,"y":-3.195},{"x":1.56,"y":-3.195},{"x":1.62,"y":-3.195},{"x":1.68,"y":-3.195},{"x":1.74,"y":-3.195},{"x":1.8,"y":-3.195},{"x":1.86,"y":-3.195},{"x":1.92,"y":-3.195},{"x":1.98,"y":-3.195},{"x":2.04,"y":-3.195},{"x":2.1,"y":-3.195},{"x":2.16,"y":-3.195},{"x":2.22,"y":-3.195},{"x":2.28,"y":-3.195},{"x":2.34,"y":-3.195},{"x":2.4,"y":-3.195},{"x":2.46,"y":-3.195},{"x":2.52,"y":-3.195},{"x":2.58,"y":-3.195},{"x":2.64,"y":-3.195},{"x":2.7,"y":-3.195},{"x":2.76,"y":-3.195},{"x":2.82,"y":-3.195},{"x":2.88,"y":-3.195},{"x":2.94,"y":-3.195},{"x":3.0,"y":-3.195},{"x":3.06,"y":-3.195},{"x":3.12,"y":-3.195},{"x":3.18,"y":-3.195},{"x":3.24,"y":-3.195},{"x":3.3,"y":-3.195},{"x":3.36,"y":-3.195},{"x":3.42,"y":-3.195},{"x":3.48,"y":-3.195},{"x":3.54,"y":-3.195},{"x":3.6,"y":-3.195},{"x":3.66,"y":-3.195},{"x":3.72,"y":-3.195},{"x":3.78,"y":-3.195},{"x":3.84,"y":-3.195},{"x":3.9,"y":-3.195},{"x":3.96,"y":-3.195},{"x":4.02,"y":-3.195},{"x":4.08,"y":-3.195},{"x":4.14,"y":-3.195},{"x":4.2,"y":-3.195},{"x":4.26,"y":-3.195},
{"x":0.81,"y":-3.228},{"x":0.87,"y":-3.228},{"x":0.93,"y":-3.228},{"x":0.99,"y":-3.228},{"x":1.05,"y":-3.228},{"x":1.11,"y":-3.228},{"x":1.17,"y":-3.228},{"x":1.23,"y":-3.228},{"x":1.29,"y":-3.228},{"x":1.35,"y":-3.228},{"x":1.41,"y":-3.228},{"x":1.47,"y":-3.228},{"x":1.53,"y":-3.228},{"x":1.59,"y":-3.228},{"x":1.65,"y":-3.228},{"x":1.71,"y":-3.228},{"x":1.77,"y":-3.228},{"x":1.83,"y":-3.228},{"x":1.89,"y":-3.228},{"x":1.95,"y":-3.228},{"x":2.01,"y":-3.228},{"x":2.07,"y":-3.228},{"x":2.13,"y":-3.228},{"x":2.19,"y":-3.228},{"x":2.25,"y":-3.228},{"x":2.31,"y":-3.228},{"x":2.37,"y":-3.228},{"x":2.43,"y":-3.228},{"x":2.49,"y":-3.228},{"x":2.55,"y":-3.228},{"x":2.61,"y":-3.228},{"x":2.67,"y":-3.228},{"x":2.73,"y":-3.228},{"x":2.79,"y":-3.228},{"x":2.85,"y":-3.228},{"x":2.91,"y":-3.228},{"x":2.97,"y":-3.228},{"x":3.03,"y":-3.228},{"x":3.09,"y":-3.228},{"x":3.15,"y":-3.228},{"x":3.21,"y":-3.228},{"x":3.27,"y":-3.228},{"x":3.33,"y":-3.228},{"x":3.39,"y":-3.228},{"x":3.45,"y":-3.228},{"x":3.51,"y":-3.228},{"x":3.57,"y":-3.228},{"x":3.63,"y":-3.228},{"x":3.69,"y":-3.228},{"x":3.75,"y":-3.228},{"x":3.81,"y":-3.228},{"x":3.87,"y":-3.228},{"x":3.93,"y":-3.228},{"x":3.99,"y":-3.228},{"x":4.05,"y":-3.228},{"x":4.11,"y":-3.228},{"x":4.17,"y":-3.228},{"x":4.23,"y":-3.228},
{"x":0.84,"y":-3.26},{"x":0.9,"y":-3.26},{"x":0.96,"y":-3.26},{"x":1.02,"y":-3.26},{"x":1.08,"y":-3.26},{"x":1.14,"y":-3.26},{"x":1.2,"y":-3.26},{"x":1.26,"y":-3.26},{"x":1.32,"y":-3.26},{"x":1.38,"y":-3.26},{"x":1.44,"y":-3.26},{"x":1.5,"y":-3.26},{"x":1.56,"y":-3.26},{"x":1.62,"y":-3.26},{"x":1.68,"y":-3.26},{"x":1.74,"y":-3.26},{"x":1.8,"y":-3.26},{"x":1.86,"y":-3.26},{"x":1.92,"y":-3.26},{"x":1.98,"y":-3.26},{"x":2.04,"y":-3.26},{"x":2.1,"y":-3.26},{"x":2.16,"y":-3.26},{"x":2.22,"y":-3.26},{"x":2.28,"y":-3.26},{"x":2.34,"y":-3.26},{"x":2.4,"y":-3.26},{"x":2.46,"y":-3.26},{"x":2.52,"y":-3.26},{"x":2.58,"y":-3.26},{"x":2.64,"y":-3.26},{"x":2.7,"y":-3.26},{"x":2.76,"y":-3.26},{"x":2.82,"y":-3.26},{"x":2.88,"y":-3.26},{"x":2.94,"y":-3.26},{"x":3.0,"y":-3.26},{"x":3.06,"y":-3.26},{"x":3.12,"y":-3.26},{"x":3.18,"y":-3.26},{"x":3.24,"y":-3.26},{"x":3.3,"y":-3.26},{"x":3.36,"y":-3.26},{"x":3.42,"y":-3.26},{"x":3.48,"y":-3.26},{"x":3.54,"y":-3.26},{"x":3.6,"y":-3.26},{"x":3.66,"y":-3.26},{"x":3.72,"y":-3.26},{"x":3.78,"y":-3.26},{"x":3.84,"y":-3.26},{"x":3.9,"y":-3.26},{"x":3.96,"y":-3.26},{"x":4.02,"y":-3.26},{"x":4.08,"y":-3.26},{"x":4.14,"y":-3.26},{"x":4.2,"y":-3.26},
{"x":0.57,"y":-3.292},{"x":0.63,"y":-3.292},{"x":0.69,"y":-3.292},{"x":0.75,"y":-3.292},{"x":0.81,"y":-3.292},{"x":0.87,"y":-3.292},{"x":0.93,"y":-3.292},{"x":0.99,"y":-3.292},{"x":1.05,"y":-3.292},{"x":1.11,"y":-3.292},{"x":1.17,"y":-3.292},{"x":1.23,"y":-3.292},{"x":1.29,"y":-3.292},{"x":1.35,"y":-3.292},{"x":1.41,"y":-3.292},{"x":1.47,"y":-3.292},{"x":1.53,"y":-3.292},{"x":1.59,"y":-3.292},{"x":1.65,"y":-3.292},{"x":1.71,"y":-3.292},{"x":1.77,"y":-3.292},{"x":1.83,"y":-3.292},{"x":1.89,"y":-3.292},{"x":1.95,"y":-3.292},{"x":2.01,"y":-3.292},{"x":2.07,"y":-3.292},{"x":2.13,"y":-3.292},{"x":2.19,"y":-3.292},{"x":2.25,"y":-3.292},{"x":2.31,"y":-3.292},{"x":2.37,"y":-3.292},{"x":2.43,"y":-3.292},{"x":2.49,"y":-3.292},{"x":2.55,"y":-3.292},{"x":2.61,"y":-3.292},{"x":2.67,"y":-3.292},{"x":2.73,"y":-3.292},{"x":2.79,"y":-3.292},{"x":2.85,"y":-3.292},{"x":2.91,"y":-3.292},{"x":2.97,"y":-3.292},{"x":3.03,"y":-3.292},{"x":3.09,"y":-3.292},{"x":3.15,"y":-3.292},{"x":3.21,"y":-3.292},{"x":3.27,"y":-3.292},{"x":3.33,"y":-3.292},{"x":3.39,"y":-3.292},{"x":3.45,"y":-3.292},{"x":3.51,"y":-3.292},{"x":3.57,"y":-3.292},{"x":3.63,"y":-3.292},{"x":3.69,"y":-3.292},{"x":3.75,"y":-3.292},{"x":3.81,"y":-3.292},{"x":3.87,"y":-3.292},{"x":3.93,"y":-3.292},{"x":3.99,"y":-3.292},{"x":4.05,"y":-3.292},{"x":4.11,"y":-3.292},
{"x":1.02,"y":-3.325},{"x":1.08,"y":-3.325},{"x":1.14,"y":-3.325},{"x":1.2,"y":-3.325},{"x":1.26,"y":-3.325},{"x":1.32,"y":-3.325},{"x":1.38,"y":-3.325},{"x":1.44,"y":-3.325},{"x":1.5,"y":-3.325},{"x":1.56,"y":-3.325},{"x":1.62,"y":-3.325},{"x":1.68,"y":-3.325},{"x":1.74,"y":-3.325},{"x":1.8,"y":-3.325},{"x":1.86,"y":-3.325},{"x":1.92,"y":-3.325},{"x":1.98,"y":-3.325},{"x":2.04,"y":-3.325},{"x":2.1,"y":-3.325},{"x":2.16,"y":-3.325},{"x":2.22,"y":-3.325},{"x":2.28,"y":-3.325},{"x":2.34,"y":-3.325},{"x":2.4,"y":-3.325},{"x":2.46,"y":-3.325},{"x":2.52,"y":-3.325},{"x":2.58,"y":-3.325},{"x":2.64,"y":-3.325},{"x":2.7,"y":-3.325},{"x":2.76,"y":-3.325},{"x":2.82,"y":-3.325},{"x":2.88,"y":-3.325},{"x":2.94,"y":-3.325},{"x":3.0,"y":-3.325},{"x":3.06,"y":-3.325},{"x":3.12,"y":-3.325},{"x":3.18,"y":-3.325},{"x":3.24,"y":-3.325},{"x":3.3,"y":-3.325},{"x":3.36,"y":-3.325},{"x":3.42,"y":-3.325},{"x":3.48,"y":-3.325},{"x":3.54,"y":-3.325},{"x":3.7,"y":-3.33},{"x":3.85,"y":-3.325},{"x":3.98,"y":-3.33},
{"x":1.05,"y":-3.357},{"x":1.11,"y":-3.357},{"x":1.17,"y":-3.357},{"x":1.23,"y":-3.357},{"x":1.29,"y":-3.357},{"x":1.35,"y":-3.357},{"x":1.41,"y":-3.357},{"x":1.47,"y":-3.357},{"x":1.53,"y":-3.357},{"x":1.59,"y":-3.357},{"x":1.65,"y":-3.357},{"x":1.71,"y":-3.357},{"x":1.77,"y":-3.357},{"x":1.83,"y":-3.357},{"x":1.89,"y":-3.357},{"x":1.95,"y":-3.357},{"x":2.01,"y":-3.357},{"x":2.07,"y":-3.357},{"x":2.13,"y":-3.357},{"x":2.19,"y":-3.357},{"x":2.25,"y":-3.357},{"x":2.31,"y":-3.357},{"x":2.37,"y":-3.357},{"x":2.43,"y":-3.357},{"x":2.49,"y":-3.357},{"x":2.55,"y":-3.357},{"x":2.61,"y":-3.357},{"x":2.67,"y":-3.357},{"x":2.73,"y":-3.357},{"x":2.79,"y":-3.357},{"x":2.85,"y":-3.357},{"x":2.91,"y":-3.357},{"x":2.97,"y":-3.357},{"x":3.03,"y":-3.357},{"x":3.09,"y":-3.357},{"x":3.15,"y":-3.357},{"x":3.21,"y":-3.357},{"x":3.27,"y":-3.357},{"x":3.33,"y":-3.357},
{"x":1.72,"y":-3.388},{"x":1.79,"y":-3.388},{"x":1.86,"y":-3.388},{"x":2.04,"y":-3.388},{"x":2.14,"y":-3.388},{"x":2.21,"y":-3.388},{"x":2.28,"y":-3.388},{"x":2.35,"y":-3.388},{"x":2.42,"y":-3.388},{"x":2.49,"y":-3.388},{"x":2.56,"y":-3.388},{"x":2.63,"y":-3.388},{"x":2.7,"y":-3.388},{"x":2.82,"y":-3.388},{"x":2.89,"y":-3.388},{"x":2.96,"y":-3.388},{"x":3.13,"y":-3.388},{"x":3.2,"y":-3.388},{"x":3.28,"y":-3.388},
{"x":2.18,"y":-3.42},{"x":2.26,"y":-3.425},{"x":2.36,"y":-3.42},{"x":2.44,"y":-3.425},{"x":2.56,"y":-3.42},{"x":2.68,"y":-3.425},{"x":2.82,"y":-3.42},{"x":3.0,"y":-3.425},{"x":3.12,"y":-3.42},{"x":3.3,"y":-3.425},{"x":2.3,"y":-3.46},{"x":2.46,"y":-3.465},{"x":2.54,"y":-3.46},{"x":2.62,"y":-3.47},{"x":2.7,"y":-3.46},{"x":2.9,"y":-3.47},{"x":2.97,"y":-3.46},{"x":3.1,"y":-3.47},{"x":3.25,"y":-3.46},{"x":2.42,"y":-3.5},{"x":2.6,"y":-3.5},{"x":2.8,"y":-3.5},{"x":2.93,"y":-3.51},{"x":3.07,"y":-3.5},{"x":3.15,"y":-3.51},{"x":3.25,"y":-3.52},{"x":2.54,"y":-3.54},{"x":2.7,"y":-3.535},{"x":2.82,"y":-3.54},{"x":2.93,"y":-3.545},{"x":3.04,"y":-3.54},{"x":3.22,"y":-3.55},{"x":3.3,"y":-3.56}
],"curve":[
{"x":0,"y":0},{"x":0.0005,"y":0.06},{"x":0.001,"y":0.1},{"x":0.002,"y":0.16},{"x":0.004,"y":0.23},{"x":0.008,"y":0.31},{"x":0.014,"y":0.4},{"x":0.022,"y":0.5},{"x":0.034,"y":0.63},{"x":0.048,"y":0.75},{"x":0.063,"y":0.88},{"x":0.079,"y":1},{"x":0.113,"y":1.25},{"x":0.152,"y":1.5},{"x":0.2,"y":1.75},{"x":0.258,"y":2},{"x":0.33,"y":2.25},{"x":0.43,"y":2.5},{"x":0.5,"y":2.634},{"x":0.54,"y":2.705},{"x":0.58,"y":2.785},{"x":0.62,"y":2.885},{"x":0.655,"y":2.985},{"x":0.72,"y":3.21},{"x":0.8,"y":3.5},{"x":0.866,"y":3.74},{"x":0.933,"y":4},{"x":1,"y":4.283}
],"curveBlue":[
{"x":0.002,"y":-0.01},{"x":0.003,"y":0.1},{"x":0.004,"y":0.16},{"x":0.006,"y":0.23},{"x":0.011,"y":0.31},{"x":0.017,"y":0.4},{"x":0.025,"y":0.5},{"x":0.037,"y":0.63},{"x":0.051,"y":0.75},{"x":0.066,"y":0.88},{"x":0.082,"y":1},{"x":0.116,"y":1.25},{"x":0.155,"y":1.5},{"x":0.203,"y":1.75},{"x":0.26,"y":2},{"x":0.332,"y":2.25},{"x":0.431,"y":2.5},{"x":0.5,"y":2.634},{"x":0.54,"y":2.705},{"x":0.58,"y":2.785},{"x":0.62,"y":2.885},{"x":0.654,"y":2.985},{"x":0.718,"y":3.21},{"x":0.797,"y":3.5},{"x":0.862,"y":3.74},{"x":0.929,"y":4},{"x":0.998,"y":4.283}
]},"hconcat":[
{"width":739,"height":1351,"layer":[
{"data":{"name":"scatter"},"mark":{"type":"point","filled":true,"size":140,"opacity":1,"color":"#0072BD","clip":false},"encoding":{"x":{"field":"x","type":"quantitative","scale":{"domain":[0.025,4.289],"nice":false,"zero":false},"axis":{"orient":"bottom","values":[1,2,3,4],"labelPadding":42}},"y":{"field":"y","type":"quantitative","scale":{"domain":[-7.318,-2.285],"nice":false,"zero":false},"axis":{"orient":"left","values":[-2.5,-3,-3.5,-4,-4.5,-5,-5.5,-6,-6.5,-7],"labelOffset":3}}}},
{"data":{"values":[{"x":1,"y":-3}]},"mark":{"type":"point","opacity":0},"encoding":{"x":{"field":"x","type":"quantitative","axis":{"orient":"top","values":[1,2,3,4],"labels":false}},"y":{"field":"y","type":"quantitative","axis":{"orient":"right","values":[-2.5,-3,-3.5,-4,-4.5,-5,-5.5,-6,-6.5,-7],"labels":false}}}},
{"data":{"values":[{"x":0.065,"y":-2.24,"t":"×10"}]},"mark":{"type":"text","align":"left","baseline":"alphabetic","font":"Liberation Sans","fontSize":48,"color":"#262626","clip":false},"encoding":{"x":{"field":"x","type":"quantitative","axis":null},"y":{"field":"y","type":"quantitative","axis":null},"text":{"field":"t"}}},
{"data":{"values":[{"x":0.55,"y":-2.147,"t":"-3"}]},"mark":{"type":"text","align":"left","baseline":"alphabetic","font":"Liberation Sans","fontSize":34,"color":"#262626","clip":false},"encoding":{"x":{"field":"x","type":"quantitative","axis":null},"y":{"field":"y","type":"quantitative","axis":null},"text":{"field":"t"}}}
],"resolve":{"axis":{"x":"independent","y":"independent"}}},
{"width":745,"height":1351,"layer":[
{"data":{"name":"curveBlue"},"mark":{"type":"line","color":"#0072BD","strokeWidth":12,"strokeCap":"round","strokeJoin":"round","interpolate":"monotone","clip":false},"encoding":{"x":{"field":"x","type":"quantitative","scale":{"domain":[0,1],"nice":false,"zero":false},"axis":{"orient":"bottom","values":[0,0.5,1],"labelPadding":42}},"y":{"field":"y","type":"quantitative","scale":{"domain":[0,4.5],"nice":false,"zero":false},"axis":{"orient":"left","values":[0,0.5,1,1.5,2,2.5,3,3.5,4,4.5],"labelOffset":3}}}},
{"data":{"values":[{"x":0.5,"y":2}]},"mark":{"type":"point","opacity":0},"encoding":{"x":{"field":"x","type":"quantitative","axis":{"orient":"top","values":[0,0.5,1],"labels":false}},"y":{"field":"y","type":"quantitative","axis":{"orient":"right","values":[0,0.5,1,1.5,2,2.5,3,3.5,4,4.5],"labels":false}}}},
{"data":{"name":"curve"},"mark":{"type":"line","color":"#D95319","strokeWidth":12,"strokeCap":"round","strokeJoin":"round","interpolate":"monotone","clip":false},"encoding":{"x":{"field":"x","type":"quantitative","axis":null},"y":{"field":"y","type":"quantitative","axis":null}}}
],"resolve":{"axis":{"x":"independent","y":"independent"}}}
]}
